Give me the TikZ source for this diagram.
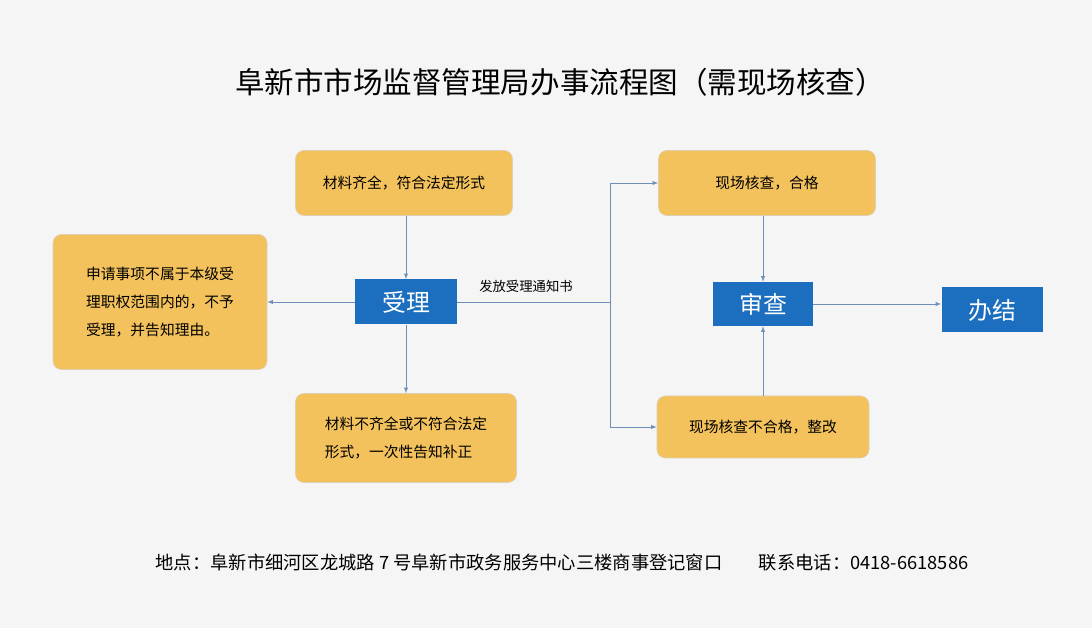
\documentclass[tikz,border=0pt]{standalone}
\usepackage{fontspec}
\setmainfont{Noto Sans CJK SC}
\usetikzlibrary{positioning}
\definecolor{boxyellow}{HTML}{F3C25C}
\definecolor{boxblue}{HTML}{1C6FBF}
\definecolor{flowline}{HTML}{6F8FB8}
\tikzset{
  matbox/.style={draw=boxyellow!70!black!40!white, fill=boxyellow, rounded corners=6pt, align=left, font=\fontsize{10.5}{20}\selectfont},
  stepbox/.style={fill=boxblue, text=white, font=\fontsize{17}{20}\selectfont, inner sep=0pt},
  flow/.style={draw=flowline, thin, -latex}
}
\begin{document}
\begin{tikzpicture}[x=0.025cm, y=-0.025cm]
  \fill[gray!8] (0,0) rectangle (1092,628);
  \useasboundingbox (0,0) rectangle (1092,628);

  \node (title) at (560,82) {\fontsize{21}{24}\selectfont 阜新市市场监督管理局办事流程图（需现场核查）};

  % left part
  \node[matbox, minimum width=217*0.025cm, minimum height=65*0.025cm] (full) at (404,183) {材料齐全，符合法定形式};
  \node[stepbox, minimum width=102*0.025cm, minimum height=45*0.025cm] (accept) at (406,302) {受理};
  \node[matbox, minimum width=214*0.025cm, minimum height=135*0.025cm] (reject) at (160,302) {申请事项不属于本级受\\理职权范围内的，不予\\受理，并告知理由。};
  \node[matbox, minimum width=221*0.025cm, minimum height=89*0.025cm] (lack) at (406,438) {材料不齐全或不符合法定\\形式，一次性告知补正};

  \draw[flow] (full.south -| accept.north) -- (accept.north);
  \draw[flow] (accept) -- (lack);
  \draw[flow] (accept) -- (reject);

  % right part
  \node[matbox, minimum width=217*0.025cm, minimum height=65*0.025cm] (pass) at (767,183) {现场核查，合格};
  \node[matbox, minimum width=212*0.025cm, minimum height=62*0.025cm] (fail) at (763,427) {现场核查不合格，整改};
  \node[stepbox, minimum width=100*0.025cm, minimum height=44*0.025cm] (review) at (763,304) {审查};
  \node[stepbox, minimum width=101*0.025cm, minimum height=45*0.025cm] (done) at (992,310) {办结};

  \coordinate (split) at (610,302);
  \draw[flowline, thin] (accept.east) -- (split) node[pos=0.45, above=3pt, black, font=\fontsize{9.5}{12}\selectfont] {发放受理通知书};
  \draw[flow] (split) |- (pass.west);
  \draw[flow] (split) |- (fail.west);
  \draw[flow] (pass.south -| review.north) -- (review.north);
  \draw[flow] (fail) -- (review);
  \draw[flow] (review.east) -- (review.east -| done.west);

  \node (foot) at (562,563) {\fontsize{13}{16}\selectfont 地点：阜新市细河区龙城路 7 号阜新市政务服务中心三楼商事登记窗口\hspace{2em}联系电话：0418-6618586};
\end{tikzpicture}
\end{document}
